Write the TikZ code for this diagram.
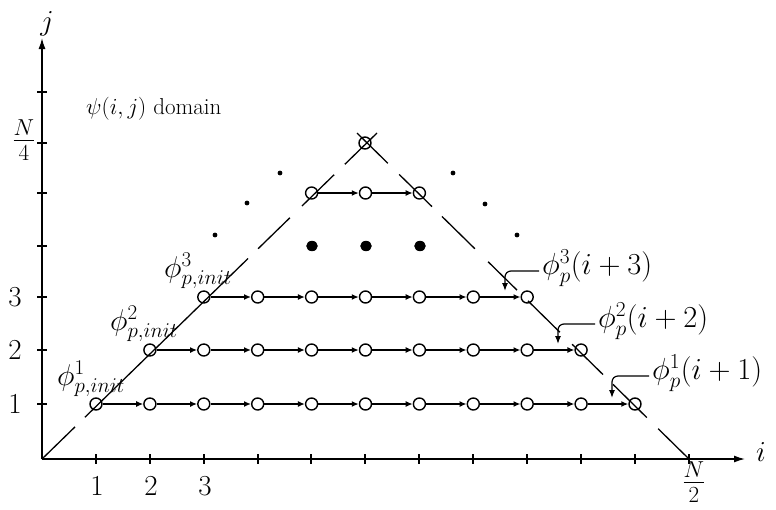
\RequirePackage{fix-cm}
\documentclass[tikz,border=0pt]{standalone}
\usetikzlibrary{arrows.meta,calc}
\begin{document}
\begin{tikzpicture}[x=1pt,y=-1pt,
  pt/.style={circle,draw,line width=1.4pt,minimum size=12pt,inner sep=0pt},
  flow/.style={line width=1.8pt,-{Latex[length=7pt,width=6pt]}},
  bound/.style={line width=1.3pt},
  axis/.style={line width=1.4pt,-{Latex[length=11pt,width=7pt]}},
  tick/.style={line width=1.2pt},
  lab/.style={font=\fontsize{29}{34}\selectfont,inner sep=0pt},
  fraclab/.style={font=\fontsize{33}{38}\selectfont,inner sep=0pt},
  domlab/.style={font=\fontsize{23}{28}\selectfont,inner sep=0pt},
  initlab/.style={font=\fontsize{30}{35}\selectfont,inner sep=0pt},
  philab/.style={font=\fontsize{30.5}{36}\selectfont,inner sep=0pt},
  leader/.style={line width=1.2pt,rounded corners=6pt,-{Latex[length=8pt,width=6pt]}},
]
\useasboundingbox (0,0) rectangle (776,509);

% axes
\coordinate (O) at (42,459);
\coordinate (yend) at (42,38);
\coordinate (xend) at (745,459);
\draw[axis] (O) -- (yend);
\draw[axis] (O) -- (xend);
\node[lab] (jl) at (47,24) {$j$};
\node[lab] (il) at (761,452) {$i$};
\foreach \x in {96,150,204,258,311,365,419,473,527,581,635,689}
  \draw[tick] (\x,454) -- (\x,464);
\foreach \y in {404,350,297,246,193,143,92}
  \draw[tick] (37,\y) -- (47,\y);
\node[lab] (x1) at (97,486) {$1$};
\node[lab] (x2) at (151,486) {$2$};
\node[lab] (x3) at (205,486) {$3$};
\node[fraclab] (xn) at (694,482) {$\frac{N}{2}$};
\node[lab] (y1) at (15,404) {$1$};
\node[lab] (y2) at (15,350) {$2$};
\node[lab] (y3) at (15,297) {$3$};
\node[fraclab] (yn) at (24,140) {$\frac{N}{4}$};

% domain label
\node[domlab,anchor=base west] (dom) at (86,114) {$\psi(i,j)$ domain};

% boundary lines
\coordinate (A) at (42,459);
\coordinate (B) at (377,133);
\coordinate (C) at (689,459);
\coordinate (D) at (357,133);
\foreach \s/\e in {0/0.0985,0.128/0.615,0.645/0.740,0.776/0.872,0.904/1}
  \draw[bound] ($(A)!\s!(B)$) -- ($(A)!\e!(B)$);
\foreach \s/\e in {0/0.093,0.127/0.229,0.259/0.352,0.389/0.485,0.518/0.605,0.645/0.744,0.774/0.873,0.907/1}
  \draw[bound] ($(C)!\s!(D)$) -- ($(C)!\e!(D)$);

% rows of points
\foreach \k in {0,...,10} \node[pt] (r1c\k) at ({96+53.9*\k},404) {};
\foreach \k in {1,...,9} \node[pt] (r2c\k) at ({96+53.9*\k},350) {};
\foreach \k in {2,...,8} \node[pt] (r3c\k) at ({96+53.9*\k},297) {};
\foreach \k in {4,5,6} \node[pt] (r4c\k) at ({96+53.9*\k},193) {};
\node[pt] (apex) at (365,143) {};

\foreach \k [evaluate=\k as \n using int(\k+1)] in {0,...,9} \draw[flow] (r1c\k) -- (r1c\n);
\foreach \k [evaluate=\k as \n using int(\k+1)] in {1,...,8} \draw[flow] (r2c\k) -- (r2c\n);
\foreach \k [evaluate=\k as \n using int(\k+1)] in {2,...,7} \draw[flow] (r3c\k) -- (r3c\n);
\draw[flow] (r4c4) -- (r4c5);
\draw[flow] (r4c5) -- (r4c6);

% dots
\foreach \p in {(280,173),(247,203),(215,235),(453,173),(485,204),(517,235)}
  \fill \p circle[radius=2.4];
\foreach \p in {(312,246),(366,246),(420,246)}
  \fill \p ellipse[x radius=5.8,y radius=5.2];

% left labels
\node[initlab] (li1) at (91,379) {$\phi^1_{p,init}$};
\node[initlab] (li2) at (144,324) {$\phi^2_{p,init}$};
\node[initlab] (li3) at (198,271) {$\phi^3_{p,init}$};

% right labels with leaders
\node[philab,anchor=west] (lr3) at (542,268) {$\phi^3_p(i+3)$};
\node[philab,anchor=west] (lr2) at (598,321) {$\phi^2_p(i+2)$};
\node[philab,anchor=west] (lr1) at (652,373) {$\phi^1_p(i+1)$};
\coordinate (t3) at (505,291);
\coordinate (t2) at (558,344);
\coordinate (t1) at (612,398);
\draw[leader] ([xshift=-3pt,yshift=-3pt]lr3.west) -| (t3);
\draw[leader] ([xshift=-3pt,yshift=-3pt]lr2.west) -| (t2);
\draw[leader] ([xshift=-3pt,yshift=-3pt]lr1.west) -| (t1);
\end{tikzpicture}
\end{document}
